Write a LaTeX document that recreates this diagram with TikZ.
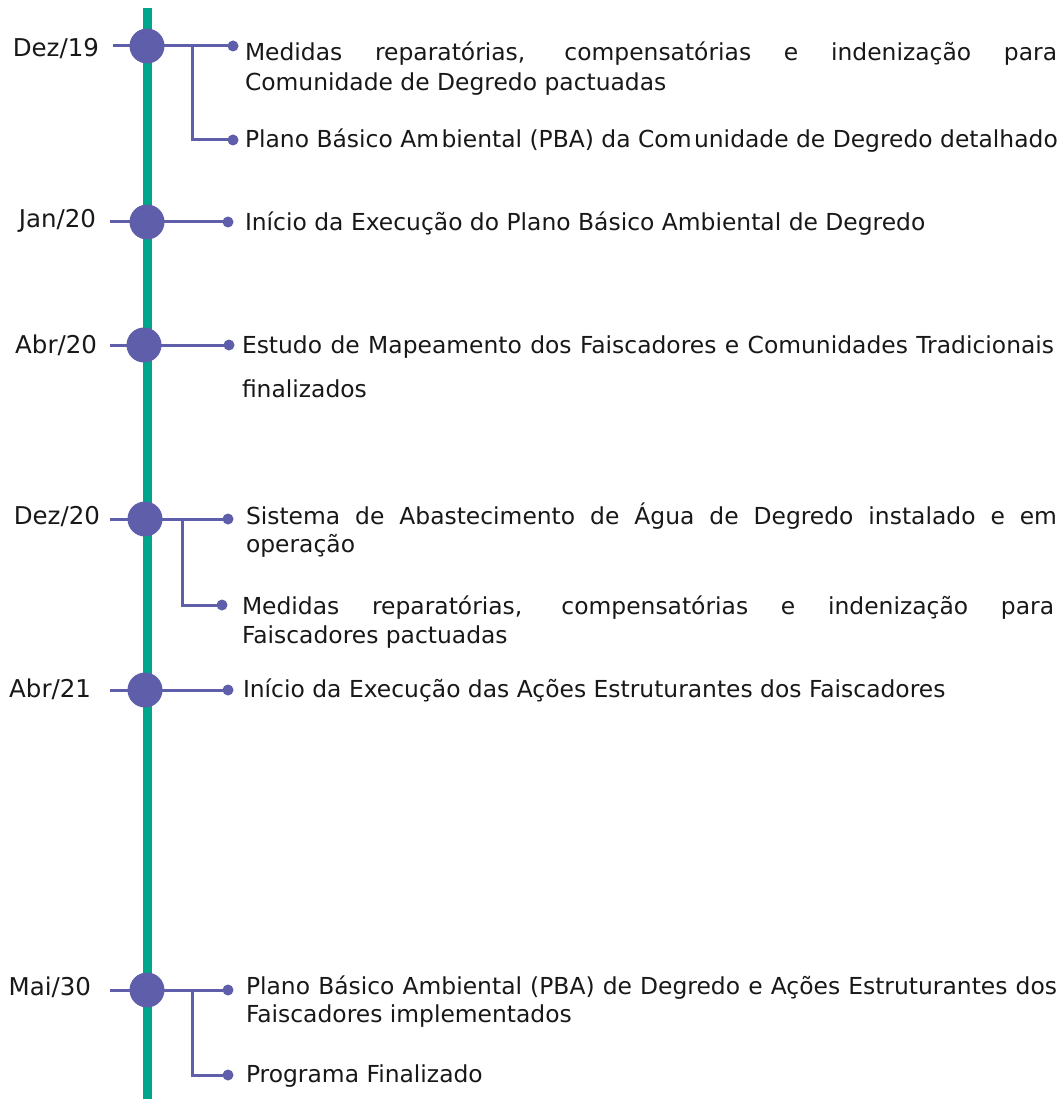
\documentclass[tikz,border=0pt]{standalone}
\usepackage{fontspec}
\setmainfont{DejaVu Sans}
\definecolor{tl}{RGB}{0,166,140}
\definecolor{pu}{RGB}{94,94,170}
\definecolor{tx}{RGB}{24,24,24}
\begin{document}
\begin{tikzpicture}[x=1pt,y=-1pt,
  every node/.style={inner sep=0pt, outer sep=0pt, text=tx, font=\fontsize{23.4}{28}\selectfont},
  milestone/.style={circle, fill=pu, minimum size=35pt},
  endpt/.style={circle, fill=pu, minimum size=11pt},
  conn/.style={draw=pu, line width=3pt},
  datelbl/.style={anchor=base east, font=\fontsize{24.5}{28}\selectfont},
  itemtxt/.style={anchor=base west},
  jline/.style={anchor=base west},
]
\useasboundingbox (0,0) rectangle (1062,1099);
\coordinate (top) at (147,8);
\coordinate (bot) at (147,1099);
\draw[tl, line width=9pt] (top) -- (bot);

% ---- Dez/19
\coordinate (m1c) at (147,46);
\coordinate (s1) at (113,46);
\coordinate (b1) at (192,46);
\node[endpt] (e1a) at (233,46) {};
\node[endpt] (e1b) at (233,140) {};
\draw[conn] (s1) -- (e1a);
\draw[conn] (b1) |- (e1b);
\node[milestone] (m1) at (m1c) {};
\node[datelbl] (d1) at (99,57) {Dez/19};
\node[jline] (t1a) at (245,61) {\makebox[812pt][s]{Medidas reparatórias, compensatórias e indenização para}};
\node[itemtxt] (t1a2) at (245,91) {Comunidade de Degredo pactuadas};
\node[itemtxt] (t1b) at (245,148) {Plano Básico Am\hspace{2.5pt}biental (PBA) da Com\hspace{2.5pt}unidade de Degredo detalhado};

% ---- Jan/20
\coordinate (s2) at (110,222);
\node[endpt] (e2) at (228,222) {};
\draw[conn] (s2) -- (e2);
\node[milestone] (m2) at (147,222) {};
\node[datelbl] (d2) at (96,228) {Jan/20};
\node[itemtxt] (t2) at (245,231) {Início da Execução do Plano Básico Ambiental de Degredo};

% ---- Abr/20
\coordinate (s3) at (110,345);
\node[endpt] (e3) at (229,345) {};
\draw[conn] (s3) -- (e3);
\node[milestone] (m3) at (144,345) {};
\node[datelbl] (d3) at (97,353) {Abr/20};
\node[jline] (t3a) at (242,353) {\makebox[812pt][s]{Estudo de Mapeamento dos Faiscadores e Comunidades Tradicionais}};
\node[itemtxt] (t3a2) at (242,397) {finalizados};

% ---- Dez/20
\coordinate (s4) at (110,519);
\coordinate (b4) at (182,519);
\node[endpt] (e4a) at (228,519) {};
\node[endpt] (e4b) at (222,605) {};
\draw[conn] (s4) -- (e4a);
\draw[conn] (b4) |- (e4b);
\node[milestone] (m4) at (145,519) {};
\node[datelbl] (d4) at (100,524) {Dez/20};
\node[jline] (t4a) at (246,524) {\makebox[811pt][s]{Sistema de Abastecimento de Água de Degredo instalado e em}};
\node[itemtxt] (t4a2) at (246,552) {operação};
\node[jline] (t4b) at (242,614) {\makebox[812pt][s]{Medidas reparatórias, compensatórias e indenização para}};
\node[itemtxt] (t4b2) at (242,643) {Faiscadores pactuadas};

% ---- Abr/21
\coordinate (s5) at (110,690);
\node[endpt] (e5) at (228,690) {};
\draw[conn] (s5) -- (e5);
\node[milestone] (m5) at (145,690) {};
\node[datelbl] (d5) at (91,697) {Abr/21};
\node[itemtxt] (t5) at (243,697) {Início da Execução das Ações Estruturantes dos Faiscadores};

% ---- Mai/30
\coordinate (s6) at (110,990);
\coordinate (b6) at (192,990);
\node[endpt] (e6a) at (228,990) {};
\node[endpt] (e6b) at (228,1075) {};
\draw[conn] (s6) -- (e6a);
\draw[conn] (b6) |- (e6b);
\node[milestone] (m6) at (147,990) {};
\node[datelbl] (d6) at (91,995) {Mai/30};
\node[jline] (t6a) at (246,994) {\makebox[811pt][s]{Plano Básico Ambiental (PBA) de Degredo e Ações Estruturantes dos}};
\node[itemtxt] (t6a2) at (246,1022) {Faiscadores implementados};
\node[itemtxt] (t6b) at (246,1082) {Programa Finalizado};
\end{tikzpicture}
\end{document}
